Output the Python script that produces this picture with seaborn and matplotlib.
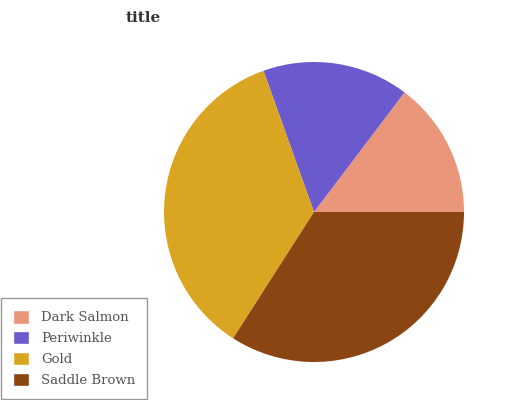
import matplotlib
matplotlib.use('Agg')
import matplotlib.pyplot as plt
import seaborn as sns
from matplotlib.patches import Patch

# Data
labels = ['Dark Salmon', 'Periwinkle', 'Gold', 'Saddle Brown']
values = [14.7, 15.8, 35.5, 34.1]
colors = ['#e9967a', '#6a5acd', '#daa520', '#8b4513']

sns.set_theme(style='white')
plt.rcParams['font.family'] = ['DejaVu Serif']

fig = plt.figure(figsize=(5.1, 4.0), dpi=100)
# pie centred at about (314, 212), radius 150 px
ax = fig.add_axes([(314 - 150) / 510, (400 - 212 - 150) / 400, 300 / 510, 300 / 400])
ax.pie(values, colors=colors, startangle=0, counterclock=True,
       wedgeprops=dict(linewidth=0))
ax.set_aspect('equal')
ax.set_xlim(-1, 1)
ax.set_ylim(-1, 1)
ax.axis('off')

fig.text(143 / 510, 1 - 18 / 400, 'title', ha='center', va='center',
         fontsize=11, fontweight='bold', color='#333333')

handles = [Patch(facecolor=c, label=l) for c, l in zip(colors, labels)]
leg = fig.legend(handles=handles, loc='lower left', bbox_to_anchor=(0, 0),
                 frameon=True, fancybox=False, fontsize=9.5,
                 handlelength=1.2, handleheight=1.2, labelspacing=0.5,
                 borderpad=0.9, handletextpad=0.9, borderaxespad=0.1)
leg.get_frame().set_edgecolor('#808080')
leg.get_frame().set_linewidth(1)
for t in leg.get_texts():
    t.set_color('#555555')

fig.savefig('out.png', dpi=100)
